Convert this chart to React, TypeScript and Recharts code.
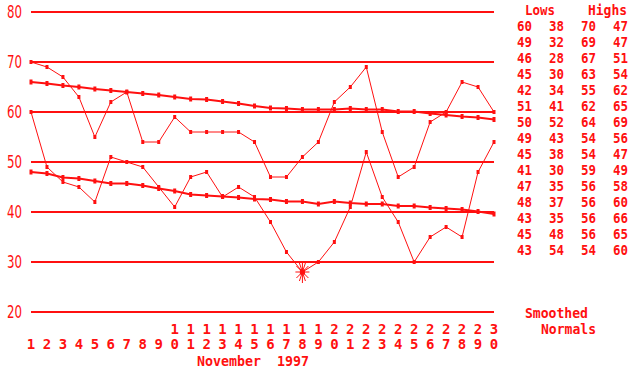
import React from "react";
import { LineChart, Line, XAxis, YAxis, CartesianGrid } from "recharts";

// November 1997 daily temperatures
const days = [1, 2, 3, 4, 5, 6, 7, 8, 9, 10, 11, 12, 13, 14, 15, 16, 17, 18, 19, 20, 21, 22, 23, 24, 25, 26, 27, 28, 29, 30];
const highs = [70, 69, 67, 63, 55, 62, 64, 54, 54, 59, 56, 56, 56, 56, 54, 47, 47, 51, 54, 62, 65, 69, 56, 47, 49, 58, 60, 66, 65, 60];
const lows = [60, 49, 46, 45, 42, 51, 50, 49, 45, 41, 47, 48, 43, 45, 43, 38, 32, 28, 30, 34, 41, 52, 43, 38, 30, 35, 37, 35, 48, 54];
// smoothed normals
const normalHighs = [66, 65.7, 65.3, 65, 64.6, 64.3, 64, 63.7, 63.4, 63, 62.6, 62.5, 62.1, 61.7, 61.2, 60.8, 60.7, 60.5, 60.5, 60.5, 60.7, 60.5, 60.5, 60.1, 60.1, 59.7, 59.4, 59.1, 58.9, 58.5];
const normalLows = [48, 47.7, 46.9, 46.7, 46.2, 45.7, 45.7, 45.3, 44.7, 44.2, 43.5, 43.3, 43.1, 42.9, 42.6, 42.5, 42.1, 42.1, 41.6, 42.1, 41.8, 41.6, 41.6, 41.2, 41.2, 40.9, 40.7, 40.5, 40.1, 39.6];
const recordLowDay = 18;
const yTicks = [20, 30, 40, 50, 60, 70, 80];

const RED = "#ff1010";
const MONO = "'DejaVu Sans Mono', 'Liberation Mono', monospace";

const data = days.map((d, i) => ({
  day: d,
  high: highs[i],
  low: lows[i],
  nHigh: normalHighs[i],
  nLow: normalLows[i],
}));

const SquareDot = (props: any) => {
  const { cx, cy } = props;
  if (cx == null || cy == null) return null;
  return <rect x={cx - 1.5} y={cy - 2} width={3} height={4} fill={RED} />;
};

const NormalDot = (props: any) => {
  const { cx, cy } = props;
  if (cx == null || cy == null) return null;
  return <rect x={cx - 1.5} y={cy - 2.5} width={3} height={5} fill={RED} />;
};

const LowDot = (props: any) => {
  const { cx, cy, payload } = props;
  if (cx == null || cy == null) return null;
  if (payload.day === recordLowDay) {
    // asterisk for the record low
    return (
      <g stroke={RED} strokeWidth={1}>
        <line x1={cx} y1={cy - 10} x2={cx} y2={cy + 11} />
        <line x1={cx - 7} y1={cy} x2={cx + 7} y2={cy} />
        <line x1={cx - 6} y1={cy - 6} x2={cx + 6} y2={cy + 6} />
        <line x1={cx + 6} y1={cy - 6} x2={cx - 6} y2={cy + 6} />
        <line x1={cx - 3} y1={cy + 9} x2={cx + 3} y2={cy - 9} />
        <line x1={cx + 3} y1={cy + 9} x2={cx - 3} y2={cy - 9} />
        <rect x={cx - 2} y={cy - 2} width={4} height={4} fill={RED} />
      </g>
    );
  }
  return <rect x={cx - 1.5} y={cy - 2} width={3} height={4} fill={RED} />;
};

const YTick = (props: any) => {
  const { y, payload } = props;
  return (
    <text
      x={22}
      y={y}
      dy={6}
      textAnchor="end"
      fill={RED}
      fontSize={18}
      fontFamily="'Liberation Sans Narrow', 'DejaVu Sans Condensed', sans-serif"
      textLength={15}
      lengthAdjust="spacingAndGlyphs"
    >
      {payload.value}
    </text>
  );
};

const DayTick = (props: any) => {
  const { x, payload } = props;
  const s = String(payload.value);
  const tens = s.length > 1 ? s[0] : null;
  const ones = s[s.length - 1];
  return (
    <g fill={RED} fontFamily={MONO} fontWeight="bold" fontSize={14} textAnchor="middle">
      {tens && (
        <text x={x} y={334}>
          {tens}
        </text>
      )}
      <text x={x} y={349}>
        {ones}
      </text>
    </g>
  );
};

const colX = [517, 549, 581, 613];

export default function App() {
  const rows = days.slice(0, 15).map((_, i) => [lows[i], lows[i + 15], highs[i], highs[i + 15]]);
  return (
    <div style={{ position: "absolute", left: 0, top: 0, width: 636, height: 372, background: "#fff" }}>
      <LineChart width={636} height={372} data={data} margin={{ top: 12, right: 142, bottom: 0, left: 0 }}>
        <CartesianGrid vertical={false} stroke={RED} strokeWidth={2} />
        <XAxis
          dataKey="day"
          type="number"
          domain={[1, 30]}
          ticks={days}
          interval={0}
          axisLine={false}
          tickLine={false}
          height={60}
          tick={<DayTick />}
        />
        <YAxis
          domain={[20, 80]}
          ticks={yTicks}
          width={31}
          axisLine={false}
          tickLine={false}
          tick={<YTick />}
        />
        <Line dataKey="nHigh" stroke={RED} strokeWidth={2} dot={<NormalDot />} isAnimationActive={false} />
        <Line dataKey="nLow" stroke={RED} strokeWidth={2} dot={<NormalDot />} isAnimationActive={false} />
        <Line dataKey="high" stroke={RED} strokeWidth={1} dot={<SquareDot />} isAnimationActive={false} />
        <Line dataKey="low" stroke={RED} strokeWidth={1} dot={<LowDot />} isAnimationActive={false} />
      </LineChart>
      <svg
        width={636}
        height={372}
        style={{ position: "absolute", left: 0, top: 0, pointerEvents: "none" }}
      >
        <g fill={RED} fontFamily={MONO} fontWeight="bold" fontSize={14}>
          <text x={197} y={366} textLength={112} lengthAdjust="spacingAndGlyphs" style={{ whiteSpace: "pre" }}>
            {"November  1997"}
          </text>
          <text x={525} y={15} textLength={30} lengthAdjust="spacingAndGlyphs">
            Lows
          </text>
          <text x={588} y={15} textLength={39} lengthAdjust="spacingAndGlyphs">
            Highs
          </text>
          {rows.map((r, i) =>
            r.map((v, j) => (
              <text
                key={`${i}-${j}`}
                x={colX[j]}
                y={31 + i * 16}
                textLength={15}
                lengthAdjust="spacingAndGlyphs"
              >
                {v}
              </text>
            ))
          )}
          <text x={525} y={318} textLength={63} lengthAdjust="spacingAndGlyphs">
            Smoothed
          </text>
          <text x={541} y={334} textLength={55} lengthAdjust="spacingAndGlyphs">
            Normals
          </text>
        </g>
      </svg>
    </div>
  );
}
